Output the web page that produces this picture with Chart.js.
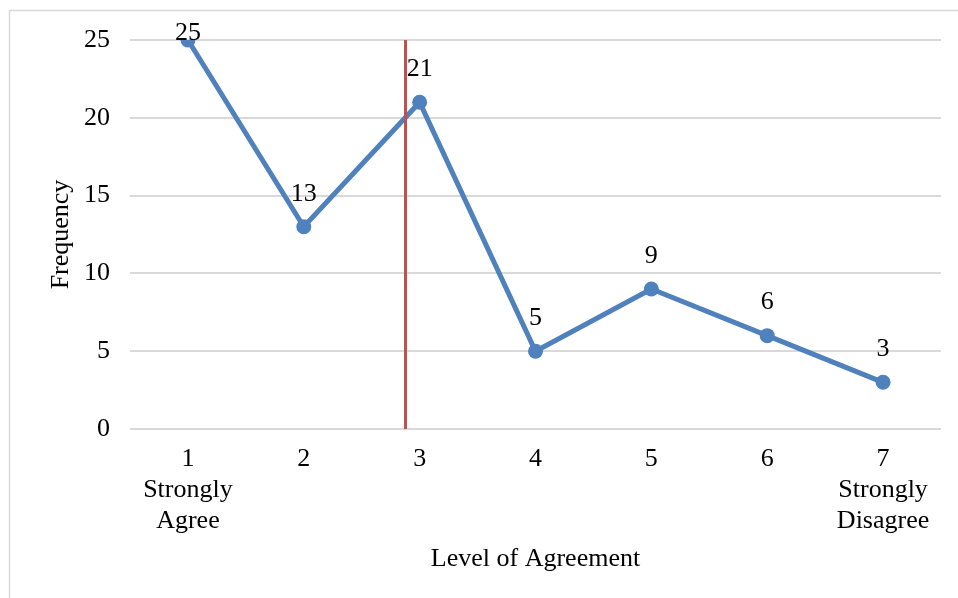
<!DOCTYPE html>
<html>
<head>
<meta charset="utf-8">
<script src="https://cdn.jsdelivr.net/npm/chart.js@4/dist/chart.umd.min.js"></script>
<style>
  html, body { margin: 0; padding: 0; background: #fff; }
  #wrap { width: 958px; height: 598px; position: relative; }
</style>
</head>
<body>
<div id="wrap"><canvas id="c" width="958" height="598"></canvas></div>
<script>
// Agreement levels (1 = Strongly Agree ... 7 = Strongly Disagree)
const levels = [1, 2, 3, 4, 5, 6, 7];
const levelNotes = [['Strongly', 'Agree'], [], [], [], [], [], ['Strongly', 'Disagree']];
const frequency = [25, 13, 21, 5, 9, 6, 3];
const yTicks = [0, 5, 10, 15, 20, 25];

const categoryLabels = levels.map((l, i) => [String(l), ...levelNotes[i]]);

// Weighted mean response, marked with a vertical line
const total = frequency.reduce((a, b) => a + b, 0);
const meanLevel = levels.reduce((s, l, i) => s + l * frequency[i], 0) / total;

const SERIF = '"Liberation Serif", "Times New Roman", serif';
const FONT_SIZE = 26;

const frame = {
  id: 'frame',
  beforeDraw(chart) {
    const ctx = chart.ctx;
    ctx.save();
    ctx.fillStyle = '#fff';
    ctx.fillRect(0, 0, chart.width, chart.height);
    ctx.strokeStyle = '#d9d9d9';
    ctx.lineWidth = 1.5;
    ctx.strokeRect(9.5, 10.5, chart.width + 20, chart.height + 20);
    ctx.restore();
  }
};

const meanLine = {
  id: 'meanLine',
  afterDatasetsDraw(chart) {
    const { ctx, scales: { x, y } } = chart;
    const px = x.getPixelForValue(meanLevel - levels[0]);
    ctx.save();
    ctx.strokeStyle = '#C0504D';
    ctx.lineWidth = 3;
    ctx.beginPath();
    ctx.moveTo(px, y.getPixelForValue(25));
    ctx.lineTo(px, y.getPixelForValue(0));
    ctx.stroke();
    ctx.restore();
  }
};

const valueLabels = {
  id: 'valueLabels',
  afterDatasetsDraw(chart) {
    const { ctx } = chart;
    const meta = chart.getDatasetMeta(0);
    ctx.save();
    ctx.font = FONT_SIZE + 'px ' + SERIF;
    ctx.fillStyle = '#000';
    ctx.textAlign = 'center';
    ctx.textBaseline = 'middle';
    meta.data.forEach((pt, i) => {
      const ly = Math.max(pt.y - 33, 33);
      ctx.fillText(String(frequency[i]), pt.x, ly);
    });
    ctx.restore();
  }
};

new Chart(document.getElementById('c'), {
  type: 'line',
  data: {
    labels: categoryLabels,
    datasets: [{
      data: frequency,
      borderColor: '#4F81BD',
      backgroundColor: '#4F81BD',
      borderWidth: 5,
      pointRadius: 7.5,
      pointBorderWidth: 0,
      pointBackgroundColor: '#4F81BD',
      tension: 0
    }]
  },
  options: {
    responsive: false,
    animation: false,
    devicePixelRatio: 1,
    layout: { padding: { left: 0, top: 40, right: 17, bottom: 0 } },
    plugins: { legend: { display: false }, tooltip: { enabled: false } },
    scales: {
      x: {
        offset: true,
        grid: { display: false, drawTicks: false },
        border: { display: false },
        ticks: {
          color: '#000',
          font: { family: SERIF, size: FONT_SIZE, lineHeight: 1.19 },
          padding: 15,
          maxRotation: 0,
          autoSkip: false
        },
        title: {
          display: true,
          text: 'Level of Agreement',
          color: '#000',
          font: { family: SERIF, size: FONT_SIZE },
          padding: { top: 0, bottom: 23 }
        },
        afterFit(scale) { scale.height = 169; }
      },
      y: {
        min: 0,
        max: 25,
        afterBuildTicks(scale) { scale.ticks = yTicks.map(v => ({ value: v })); },
        grid: { color: '#d9d9d9', lineWidth: 2, drawTicks: false },
        border: { display: false },
        ticks: {
          color: '#000',
          font: { family: SERIF, size: FONT_SIZE },
          padding: 20
        },
        title: {
          display: true,
          text: 'Frequency',
          color: '#000',
          font: { family: SERIF, size: FONT_SIZE },
          padding: { top: 46, bottom: 0 }
        },
        afterFit(scale) { scale.width = 130; }
      }
    }
  },
  plugins: [frame, meanLine, valueLabels]
});
</script>
</body>
</html>
